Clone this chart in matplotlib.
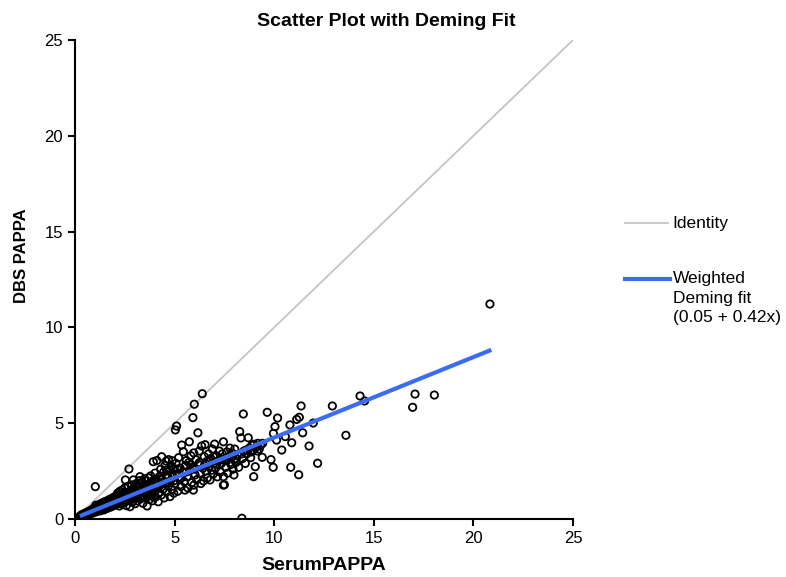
import numpy as np
import matplotlib
matplotlib.use("Agg")
import matplotlib.pyplot as plt
from matplotlib.lines import Line2D

plt.rcParams["font.family"] = ["Liberation Sans", "DejaVu Sans"]

# ── paired measurements (serum vs dried blood spot) ───────────────────────────
serum_pappa = [
    0.22, 0.28, 0.31, 0.35, 0.38, 0.41, 0.44, 0.47, 0.50, 0.52, 0.55, 0.58, 0.60, 0.63,
    0.66, 0.68, 0.71, 0.74, 0.76, 0.79, 0.82, 0.84, 0.87, 0.90, 0.93, 0.95, 0.98, 1.02,
    1.01, 1.04, 1.07, 1.10, 1.13, 1.16, 1.19, 1.22, 1.25, 1.28, 1.31, 1.34, 1.37, 1.40,
    1.43, 1.46, 1.49, 1.52, 1.55, 1.58, 1.61, 1.64, 1.67, 1.70, 1.73, 1.76, 1.79, 1.82,
    1.85, 1.88, 1.91, 1.94, 1.97, 1.99,
    2.02, 2.05, 2.08, 2.11, 2.14, 2.17, 2.20, 2.23, 2.26, 2.29, 2.32, 2.35, 2.38, 2.41,
    2.44, 2.47, 2.50, 2.53, 2.55, 2.58, 2.61, 2.64, 2.67, 2.71, 2.73, 2.76, 2.79, 2.82,
    2.85, 2.88, 2.91, 2.93, 2.96, 2.99,
    3.02, 3.05, 3.08, 3.11, 3.14, 3.17, 3.20, 3.23, 3.26, 3.29, 3.32, 3.35, 3.38, 3.41,
    3.44, 3.47, 3.50, 3.53, 3.56, 3.59, 3.62, 3.65, 3.68, 3.71, 3.74, 3.77, 3.80, 3.83,
    3.86, 3.89, 3.93, 3.95, 3.98,
    4.02, 4.05, 4.08, 4.11, 4.14, 4.18, 4.21, 4.24, 4.27, 4.30, 4.33, 4.35, 4.38, 4.42,
    4.45, 4.48, 4.52, 4.55, 4.58, 4.61, 4.64, 4.67, 4.70, 4.74, 4.77, 4.80, 4.84, 4.87,
    4.89, 4.92, 4.96, 4.99,
    5.03, 5.04, 5.07, 5.10, 5.12, 5.16, 5.20, 5.24, 5.28, 5.32, 5.36, 5.40, 5.44, 5.48,
    5.52, 5.55, 5.59, 5.63, 5.67, 5.71, 5.74, 5.78, 5.82, 5.86, 5.90, 5.92, 5.94, 5.97,
    5.99, 5.96,
    6.03, 6.07, 6.11, 6.17, 6.20, 6.24, 6.28, 6.32, 6.36, 6.39, 6.42, 6.45, 6.49, 6.53,
    6.57, 6.61, 6.65, 6.70, 6.74, 6.78, 6.82, 6.86, 6.90, 6.94, 6.98,
    7.01, 7.05, 7.10, 7.15, 7.20, 7.25, 7.30, 7.35, 7.40, 7.45, 7.45, 7.45, 7.50, 7.52,
    7.58, 7.63, 7.68, 7.73, 7.78, 7.83, 7.88, 7.93, 7.98, 7.98,
    8.02, 8.08, 8.15, 8.22, 8.27, 8.33, 8.38, 8.40, 8.45, 8.48, 8.55, 8.62, 8.70, 8.75,
    8.82, 8.88, 8.95, 8.97, 8.99, 9.05, 9.10, 9.18, 9.25, 9.32, 9.40, 9.42, 9.65, 9.84,
    9.95, 9.96,
    10.04, 10.12, 10.17, 10.38, 10.56, 10.79, 10.83, 10.88, 11.13, 11.23, 11.26, 11.35,
    11.43, 11.75, 11.96, 12.18, 12.92, 13.60, 14.31, 14.54, 16.95, 17.07, 18.04, 20.83,
    # second batch of samples
    0.33, 0.45, 0.57, 0.65, 0.72, 0.86, 0.92, 0.97,
    1.05, 1.15, 1.24, 1.33, 1.45, 1.57, 1.66, 1.78, 1.87, 1.96,
    2.06, 2.18, 2.27, 2.36, 2.48, 2.57, 2.66, 2.78, 2.87, 2.97,
    3.07, 3.18, 3.28, 3.40, 3.52, 3.63, 3.72, 3.84, 3.94,
    4.06, 4.20, 4.32, 4.46, 4.60, 4.73, 4.86, 4.98,
    5.15, 5.35, 5.58, 5.80, 6.00, 6.25, 6.50, 6.75, 6.95,
    7.12, 7.38, 7.62, 7.85, 8.10, 8.35, 8.60, 8.85, 9.15,
]
dbs_pappa = [
    0.12, 0.15, 0.18, 0.14, 0.20, 0.17, 0.24, 0.19, 0.26, 0.21, 0.30, 0.23, 0.34, 0.27,
    0.38, 0.25, 0.31, 0.42, 0.29, 0.36, 0.46, 0.33, 0.40, 0.52, 0.37, 0.45, 0.58, 1.69,
    0.41, 0.50, 0.62, 0.39, 0.55, 0.70, 0.46, 0.60, 0.78, 0.43, 0.66, 0.52, 0.84, 0.58,
    0.71, 0.48, 0.90, 0.63, 0.76, 0.55, 0.95, 0.68, 0.82, 0.60, 1.02, 0.74, 0.88, 0.64,
    1.08, 0.79, 0.94, 0.70, 1.15, 0.85,
    0.74, 1.00, 1.22, 0.80, 1.35, 0.92, 1.10, 0.68, 1.45, 0.98, 1.18, 0.78, 1.52, 1.05,
    1.28, 0.86, 1.62, 2.04, 1.12, 0.70, 1.38, 0.95, 1.70, 2.61, 1.20, 0.64, 1.48, 1.02,
    1.78, 0.88, 1.30, 2.04, 1.58, 1.10,
    0.80, 1.40, 1.85, 1.18, 0.95, 1.66, 1.30, 2.00, 2.21, 1.05, 1.52, 1.92, 1.24, 0.82,
    1.75, 1.40, 2.10, 1.12, 1.60, 1.98, 0.68, 1.35, 2.15, 1.82, 1.02, 1.50, 2.25, 1.22,
    1.70, 0.95, 2.99, 1.90, 1.40,
    2.40, 1.15, 1.62, 3.05, 1.95, 0.90, 1.38, 2.22, 1.78, 2.60, 1.25, 3.25, 2.05, 1.55,
    2.45, 1.10, 2.80, 1.88, 3.02, 1.42, 2.30, 1.70, 3.10, 2.58, 1.17, 2.00, 2.75, 1.55,
    3.04, 2.20, 1.35, 2.62,
    1.85, 4.65, 2.90, 4.85, 2.35, 1.45, 3.20, 2.08, 2.65, 1.70, 3.86, 2.45, 3.51, 1.95,
    1.51, 2.80, 3.05, 2.20, 1.62, 2.95, 4.03, 2.55, 3.30, 1.90, 2.70, 5.29, 1.51, 1.77,
    5.99, 3.45,
    2.30, 3.10, 2.05, 4.50, 2.85, 3.55, 2.40, 1.85, 3.81, 6.54, 2.65, 1.99, 3.25, 3.88,
    2.50, 3.00, 2.15, 3.40, 2.75, 2.04, 3.15, 2.55, 3.65, 2.35, 2.90,
    3.91, 2.65, 3.30, 2.20, 3.05, 3.55, 2.45, 2.90, 3.40, 4.03, 2.21, 1.77, 1.79, 3.15,
    2.70, 3.50, 2.40, 3.25, 3.70, 2.85, 3.45, 2.60, 2.30, 3.10,
    3.65, 2.95, 3.35, 2.70, 4.56, 4.23, 0.04, 3.15, 5.48, 3.55, 2.90, 3.40, 4.24, 3.70,
    3.20, 3.85, 3.60, 2.21, 3.90, 2.73, 3.75, 3.95, 3.65, 3.85, 3.22, 3.95, 5.57, 3.10,
    2.70, 4.47,
    4.82, 4.12, 5.27, 3.60, 4.30, 4.91, 2.70, 3.98, 5.20, 2.31, 5.31, 5.90,
    4.50, 3.81, 5.01, 2.91, 5.90, 4.37, 6.42, 6.16, 5.83, 6.52, 6.47, 11.22,
    # second batch of samples
    0.22, 0.28, 0.33, 0.22, 0.37, 0.30, 0.44, 0.34,
    0.72, 0.48, 0.68, 0.75, 0.62, 0.85, 0.58, 0.96, 0.70, 1.05,
    0.88, 1.25, 0.85, 1.20, 1.40, 0.96, 1.30, 1.12, 1.55, 1.25,
    1.10, 1.45, 1.70, 1.15, 1.80, 1.25, 1.55, 1.95, 1.15,
    2.00, 1.70, 2.10, 1.95, 2.55, 1.90, 2.35, 2.00,
    2.60, 2.15, 2.45, 2.85, 2.60, 2.95, 2.80, 3.05, 3.25,
    2.85, 3.10, 3.05, 3.20, 3.15, 3.40, 3.60, 3.50, 3.55,
]

# weighted Deming fit coefficients and x-range of the fitted segment
fit_intercept = 0.05
fit_slope = 0.42
fit_range = [0.25, 20.9]

# ── figure ────────────────────────────────────────────────────────────────────
fig = plt.figure(figsize=(7.86, 5.77), dpi=100)
ax = fig.add_axes([0.0954, 0.1005, 0.6336, 0.8302])

identity_color = "#c4c4c4"
fit_color = "#3b6cf5"

ax.plot([0, 25], [0, 25], color=identity_color, linewidth=1.3, zorder=1)
ax.scatter(serum_pappa, dbs_pappa, s=28, facecolors="none", edgecolors="black",
           linewidths=1.3, zorder=2)
fit_x = np.array(fit_range)
ax.plot(fit_x, fit_intercept + fit_slope * fit_x, color=fit_color, linewidth=3,
        solid_capstyle="butt", zorder=3)

ax.set_xlim(0, 25)
ax.set_ylim(0, 25)
ax.set_xticks(range(0, 26, 5))
ax.set_yticks(range(0, 26, 5))
for side in ("top", "right"):
    ax.spines[side].set_visible(False)
for side in ("left", "bottom"):
    ax.spines[side].set_linewidth(1.5)
ax.tick_params(direction="out", length=5, width=1.5, labelsize=12)

ax.set_xlabel("SerumPAPPA", fontsize=14, fontweight="bold")
ax.xaxis.set_label_coords(0.5, -0.080)
ax.set_ylabel("DBS PAPPA", fontsize=12, fontweight="bold")
ax.yaxis.set_label_coords(-0.092, 0.55)
fig.text(0.492, 0.962, "Scatter Plot with Deming Fit", fontsize=14,
         fontweight="bold", ha="center", va="center")

# legend drawn by hand so the multi-line label hangs from the handle
fig.add_artist(Line2D([0.795, 0.850], [0.6135, 0.6135], color=identity_color,
                      linewidth=1.3, transform=fig.transFigure))
fig.text(0.856, 0.6135, "Identity", fontsize=12.5, va="center")
fig.add_artist(Line2D([0.795, 0.852], [0.5165, 0.5165], color=fit_color,
                      linewidth=3, transform=fig.transFigure))
fit_label = ["Weighted", "Deming fit", f"({fit_intercept:.2f} + {fit_slope:.2f}x)"]
for i, line in enumerate(fit_label):
    fig.text(0.856, 0.5165 - i * 0.0330, line, fontsize=12.5, va="center")

fig.savefig("out.png", dpi=100)
